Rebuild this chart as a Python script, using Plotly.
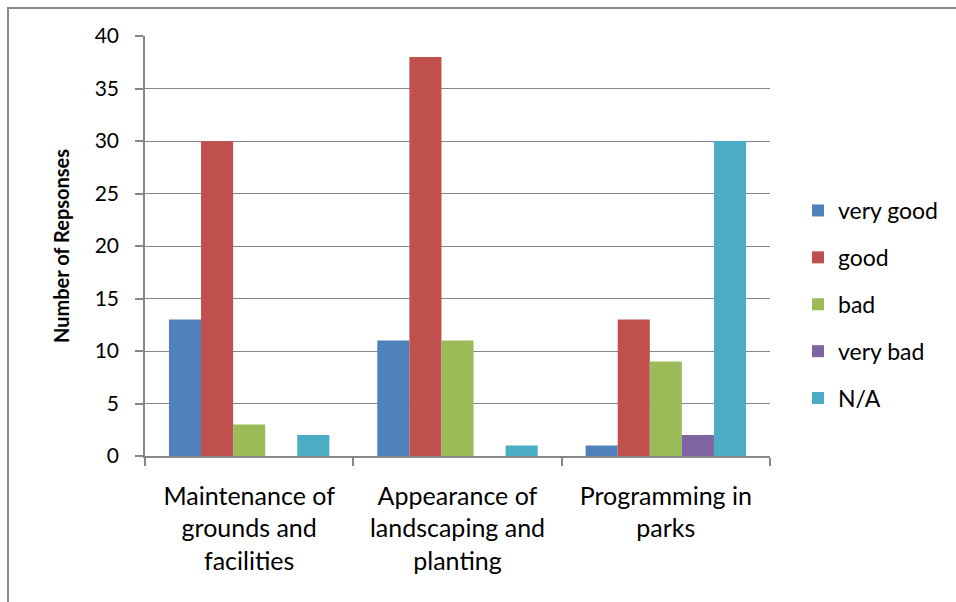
import plotly.graph_objects as go

categories = ["Maintenance of<br>grounds and<br>facilities",
              "Appearance of<br>landscaping and<br>planting",
              "Programming in<br>parks"]
series_names = ["very good", "good", "bad", "very bad", "N/A"]
very_good = [13, 11, 1]
good = [30, 38, 13]
bad = [3, 11, 9]
very_bad = [0, 0, 2]
na = [2, 1, 30]
colors = ["#4F81BD", "#C0504D", "#9BBB59", "#8064A2", "#4BACC6"]

FONT = "Lato"
GRAY = "#868686"

fig = go.Figure()
for name, vals, col in zip(series_names, [very_good, good, bad, very_bad, na], colors):
    fig.add_trace(go.Bar(name=name, x=categories, y=vals, marker_color=col,
                         marker_line_width=0, legendgroup=name))

W, H = 956, 602
ml, mr, mt, mb = 145, 186, 36, 146
pw, ph = W - ml - mr, H - mt - mb

def px_x(x):
    return (x - ml) / pw

def px_y(y):
    return (H - mb - y) / ph

border = dict(color="#8C8C8C", width=2)

fig.update_layout(
    width=W, height=H,
    margin=dict(l=ml, r=mr, t=mt, b=mb, autoexpand=False),
    paper_bgcolor="white", plot_bgcolor="white",
    font=dict(family=FONT, size=23, color="black"),
    barmode="group", bargap=0.23, bargroupgap=0,
    showlegend=True,
    legend=dict(x=px_x(798), y=px_y(189), xanchor="left", yanchor="top",
                font=dict(family=FONT, size=23, color="black"),
                tracegroupgap=14, itemwidth=30, traceorder="grouped",
                bgcolor="rgba(0,0,0,0)"),
    xaxis=dict(showline=True, linecolor=GRAY, linewidth=1.5,
               ticks="outside", tickson="boundaries", ticklen=8, tickcolor=GRAY,
               tickwidth=1.5, showgrid=False, ticklabelstandoff=17,
               tickfont=dict(family=FONT, size=25, color="black")),
    yaxis=dict(range=[0, 40], dtick=5, showline=True, linecolor=GRAY, linewidth=1.5,
               ticks="outside", ticklen=8, tickcolor=GRAY, tickwidth=1.5,
               showgrid=True, gridcolor=GRAY, gridwidth=1, zeroline=False,
               ticklabelstandoff=12,
               tickfont=dict(family=FONT, size=21, color="black"),
               title=dict(text="<b>Number of Repsonses</b>", standoff=20,
                          font=dict(family=FONT, size=20, color="black"))),
    shapes=[
        dict(type="line", xref="paper", yref="paper",
             x0=px_x(7), x1=px_x(956), y0=px_y(8), y1=px_y(8), line=border),
        dict(type="line", xref="paper", yref="paper",
             x0=px_x(8), x1=px_x(8), y0=px_y(7), y1=px_y(602), line=border),
    ],
)

fig.write_html("out.html", config={"displayModeBar": False})
with open("out.html", encoding="utf-8") as f:
    html = f.read()
html = html.replace("<body>", '<body style="margin:0;overflow:hidden">', 1)
with open("out.html", "w", encoding="utf-8") as f:
    f.write(html)
